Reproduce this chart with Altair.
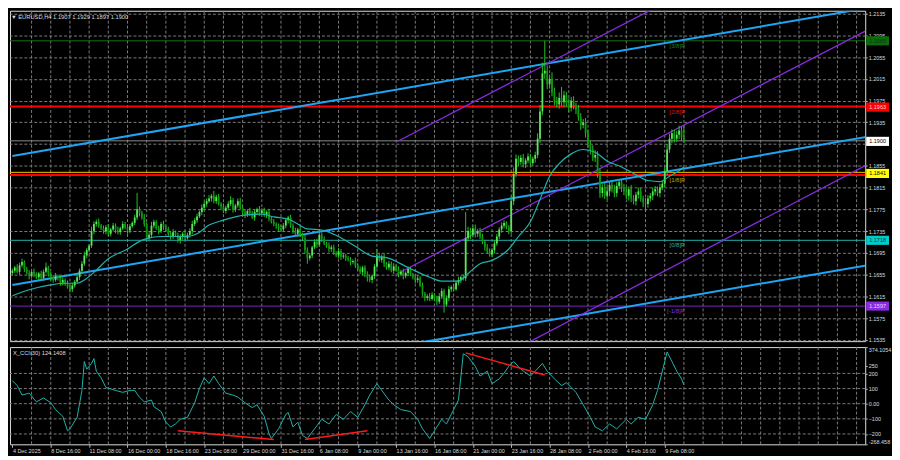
import altair as alt
import pandas as pd

# ------------------------------------------------------------------ data
# EURUSD H4 closes, in pips above 1.1000 (bar 0 = 4 Dec 2025 00:00)
closes = [
    662, 668, 660, 672, 678, 665, 658, 652, 660, 655, 650, 657, 648, 660,
    668, 655, 650, 645, 652, 648, 640, 645, 638, 632, 628, 635, 642,
    650, 662, 675, 690, 700, 708, 735, 748, 752, 745,
    740, 735, 742, 730, 738, 745, 737, 733, 740, 748, 742, 736, 744, 750, 760,
    775, 768, 760, 748,
    722, 728, 745, 752, 740, 735, 748, 742, 738, 730, 725, 733, 728, 718, 724, 730, 722, 728,
    735, 748, 755, 762, 770, 778, 785, 790,
    795, 800, 790, 798, 785, 780,
    772, 778, 785, 792, 775, 782, 790, 778, 770,
    765, 772, 768, 760, 770, 775, 768, 773,
    765, 770, 758, 752, 748, 745,
    740, 738, 745, 755, 760,
    745, 735, 730, 738, 728, 722,
    700, 685, 690, 705,
    715, 710, 728, 720, 712,
    708, 702, 705, 695, 690, 698, 688,
    690, 685, 682, 678, 680,
    672, 665, 660, 668, 655, 650, 645, 652,
    670, 690, 682, 688, 675,
    668, 675, 662, 670, 665,
    655, 660, 652, 658, 665, 655, 650, 645, 648,
    635, 620, 612, 615,
    610, 618, 612, 605, 615,
    625, 600, 612, 628,
    632, 628, 640, 645, 650, 648,
    722, 735, 728, 740, 730, 735, 725,
    715, 705, 698, 692, 700, 712,
    725, 738, 745, 750, 742, 735,
    790, 840, 868,
    862, 870, 858, 865, 872, 860, 868, 875,
    905, 955,
    1025, 1030, 1005, 1015, 990,
    975, 968, 980, 972, 985,
    970, 962, 975, 965, 958,
    945, 930, 935, 915,
    895, 885, 870, 875,
    840, 805,
    815, 800, 808, 820, 812, 805, 818, 825, 815, 808,
    800, 812, 795, 790, 802, 808, 795, 788, 785, 795,
    800, 808, 812, 805, 815, 822,
    845, 885, 905,
    915, 905, 912, 920, 907, 900,
]
first_open = 658

# wick lengths beyond the body (pips)
up_wick = [
    4, 3, 6, 5, 6, 3, 4, 5, 3, 6, 4, 3, 5, 4, 9, 3, 5, 4, 6, 3,
    5, 4, 3, 6, 4, 5, 3, 6, 4, 5, 7, 4, 3, 8, 5, 4, 6, 3, 5, 4,
    6, 3, 5, 4, 6, 3, 5, 4, 6, 4, 3, 5, 30, 5, 4, 6, 3, 5, 7, 4,
    3, 5, 4, 6, 3, 5, 4, 6, 3, 4, 5, 3, 6, 4, 5, 6, 4, 5, 3, 6,
    4, 5, 6, 3, 9, 4, 5, 3, 6, 4, 5, 7, 4, 3, 5, 6, 4, 5, 3, 6,
    4, 5, 3, 6, 4, 5, 3, 6, 4, 5, 3, 4, 6, 5, 4, 3, 5, 4, 6, 3,
    5, 4, 6, 5, 4, 3, 5, 6, 11, 4, 5, 3, 6, 4, 5, 3, 6, 4, 5, 3,
    4, 5, 3, 6, 4, 5, 3, 4, 6, 5, 3, 4, 12, 5, 4, 6, 3, 5, 4, 6,
    3, 5, 4, 6, 3, 5, 4, 3, 5, 6, 4, 5, 3, 4, 6, 5, 3, 4, 6, 5,
    4, 5, 6, 3, 5, 4, 6, 3, 5, 48, 8, 6, 5, 7, 4, 6, 5, 4, 6, 5,
    4, 6, 5, 4, 6, 5, 3, 4, 10, 12, 8, 6, 5, 7, 4, 6, 5, 4, 6, 10,
    12, 20, 55, 10, 8, 12, 9, 7, 10, 20, 8, 6, 9, 7, 8, 6, 9, 7, 6, 8,
    7, 6, 8, 9, 7, 10, 6, 8, 7, 5, 6, 8, 7, 6, 5, 7, 6, 5, 8, 6,
    5, 7, 6, 5, 8, 6, 5, 7, 6, 5, 7, 6, 8, 10, 9, 7, 6, 8, 9, 7, 22,
]
dn_wick = [
    5, 4, 3, 6, 4, 5, 3, 6, 4, 5, 3, 6, 4, 5, 3, 4, 6, 5, 3, 4,
    6, 5, 4, 3, 6, 5, 4, 3, 5, 6, 4, 5, 3, 4, 6, 5, 4, 3, 5, 6,
    4, 5, 3, 6, 4, 5, 3, 4, 6, 5, 3, 4, 5, 6, 4, 5, 3, 6, 4, 5,
    3, 6, 4, 5, 3, 4, 6, 5, 3, 4, 6, 5, 4, 3, 5, 6, 4, 5, 3, 6,
    4, 5, 3, 6, 4, 5, 3, 6, 4, 5, 3, 4, 6, 5, 4, 3, 5, 6, 4, 5,
    3, 6, 4, 5, 3, 4, 6, 5, 3, 4, 6, 5, 4, 3, 5, 6, 4, 5, 3, 6,
    4, 5, 6, 10, 4, 5, 3, 6, 4, 5, 3, 4, 6, 5, 4, 3, 5, 6, 4, 5,
    3, 6, 4, 5, 3, 4, 6, 5, 8, 4, 6, 5, 4, 3, 5, 6, 4, 5, 3, 6,
    4, 5, 3, 6, 4, 5, 3, 4, 6, 5, 3, 4, 6, 5, 4, 3, 5, 6, 4, 5,
    15, 4, 6, 5, 4, 3, 5, 6, 4, 5, 6, 8, 5, 7, 6, 5, 4, 6, 5, 4,
    5, 6, 4, 5, 6, 5, 4, 6, 5, 7, 6, 8, 5, 6, 7, 5, 6, 5, 7, 6,
    8, 7, 10, 9, 8, 7, 9, 6, 8, 7, 9, 6, 8, 7, 6, 8, 7, 9, 6, 8,
    7, 9, 6, 8, 7, 9, 8, 6, 7, 9, 6, 8, 7, 6, 8, 7, 6, 9, 7, 6,
    8, 7, 6, 9, 15, 7, 6, 8, 7, 6, 8, 5, 6, 7, 6, 8, 7, 6, 8, 6, 3,
]

# moving average (read at sample bars), pips above 1.1000
ma_bars = [0, 7, 16, 22, 27, 30, 34, 40, 48, 53, 56, 62, 73, 77, 82, 88, 93, 96, 104, 109,
           115, 119, 123, 129, 134, 138, 143, 150, 156, 165, 174, 179, 186, 190, 195, 200,
           207, 211, 216, 220, 224, 228, 233, 238, 243, 248, 254, 259, 265, 270, 274, 278, 280]
ma_vals = [616, 627, 636, 639, 639, 645, 659, 684, 702, 716, 721, 725, 725, 730, 746, 755, 761, 764, 766, 761,
           757, 748, 739, 737, 729, 720, 707, 689, 686, 668, 650, 643, 643, 657, 675, 681,
           702, 725, 752, 793, 836, 859, 877, 885, 880, 864, 853, 841, 828, 826, 836, 846, 853]

# CCI(30)
cci_bars = [0, 2, 4, 7, 10, 13, 16, 18, 21, 23, 24, 27, 29, 30, 31, 33, 34, 35, 37, 39,
            43, 46, 49, 51, 53, 55, 58, 59, 62, 64, 66, 68, 70, 73, 76, 78, 80, 82, 84, 86,
            89, 92, 94, 97, 100, 102, 105, 107, 108, 111, 114, 115, 117, 119, 121, 123, 126, 129, 132, 135,
            138, 141, 144, 147, 149, 152, 154, 157, 159, 162, 166, 169, 171, 174, 176, 179, 181, 184, 186, 188,
            190, 193, 195, 198, 200, 203, 205, 207, 209, 212, 216, 218, 221, 223, 226, 229, 231, 235, 238, 241,
            243, 246, 249, 252, 256, 258, 261, 264, 267, 269, 271, 273, 275, 277, 279, 280]
cci_vals = [152, 120, 57, 70, 12, 38, 6, -39, -83, -179, -166, -90, 88, 279, 228, 266, 298, 215, 171, 107,
            88, 75, 88, 88, 43, 12, 24, -20, -52, -122, -154, -134, -103, -90, 6, 101, 171, 133, 183, 133,
            69, 57, 44, 6, -26, -7, -83, -198, -230, -166, -71, -58, -154, -122, -211, -230, -166, -103, -134, -71,
            -103, -52, -90, -7, 57, 133, 88, 24, -7, -39, -52, -103, -166, -230, -179, -103, -134, -39, 24, 330,
            310, 247, 183, 215, 133, 164, 202, 247, 279, 228, 183, 215, 266, 215, 164, 120, 139, 75, -7, -90,
            -154, -179, -134, -166, -103, -134, -90, -103, -7, 88, 215, 342, 279, 215, 164, 124]

# CCI divergence segments
div_b0 = [69, 122, 189]
div_v0 = [-179, -237, 336]
div_b1 = [109, 148, 222]
div_v1 = [-237, -179, 190]

# trend channels: (bar0, price0) -> (bar1, price1)
chan_names = ["b1", "b2", "b3", "p1", "p2", "p3"]
chan_b0 = [0.0, 0.0, 170.7, 160.5, 160.1, 213.9]
chan_p0 = [1.1873, 1.16359, 1.15303, 1.18997, 1.16555, 1.15272]
chan_b1 = [356.5, 356.5, 356.5, 271.1, 356.5, 356.5]
chan_p1 = [1.21453, 1.19083, 1.16723, 1.21528, 1.2105, 1.18573]

# horizontal levels
level_names = ["g385", "r28", "bid", "y18", "r18", "c08", "m18"]
level_prices = [1.2085, 1.1964, 1.1901, 1.1843, 1.1838, 1.1718, 1.1597]

# Murrey labels
murrey_text = ["[3/8]P", "[2/8]P", "[1/8]P", "[0/8]P", "[-1/8]P"]
murrey_price = [1.2085, 1.1964, 1.1838, 1.1718, 1.1597]
murrey_bar = [274, 274, 274, 274, 273]

# price boxes on the right scale
box_text = ["1.2085", "1.1963", "1.1900", "1.1841", "1.1718", "1.1597"]
box_price = [1.2085, 1.1963, 1.1900, 1.1841, 1.1718, 1.1597]

price_ticks = [1.2135, 1.2095, 1.2055, 1.2015, 1.1975, 1.1935, 1.1895, 1.1855,
               1.1815, 1.1775, 1.1735, 1.1695, 1.1655, 1.1615, 1.1575, 1.1535]
hidden_tick = 1.1895
cci_ticks = [374.1054, 250, 200, 100, 0, -100, -200, -268.458]
cci_grid = [200, 100, 0, -100, -200]

tick_bars = [0, 16, 32, 48, 64, 80, 96, 112, 128, 144, 160, 176, 192, 208, 224, 240, 256, 272]
tick_labels = ["4 Dec 2025", "8 Dec 16:00", "11 Dec 08:00", "16 Dec 00:00", "18 Dec 16:00",
               "23 Dec 08:00", "29 Dec 00:00", "31 Dec 16:00", "6 Jan 08:00", "9 Jan 00:00",
               "13 Jan 16:00", "16 Jan 08:00", "21 Jan 00:00", "23 Jan 16:00", "28 Jan 08:00",
               "2 Feb 00:00", "4 Feb 16:00", "9 Feb 08:00"]
grid_bars = list(range(8, 353, 8))

title_text = "\u25BC EURUSD,H4  1.1907 1.1929 1.1897 1.1900"
cci_title = "X_CCI(30) 124.1408"

# ------------------------------------------------------------------ styles
W, H_MAIN, H_CCI = 862, 333, 98
X_DOM = [-1, 355.6]
Y_DOM = [1.15325, 1.21403]
CCI_DOM = [-268.458, 374.1054]
FONT = "Liberation Sans"
FS = 5.5
TXT = "#dcdcdc"
GRID = "#7a7a7a"
BULL = "#5ee35e"
BEAR = "#0c9a0c"
WICK = "#22c322"
BLUE = "#1ea5f5"
PURPLE = "#8a2be2"
MA_COL = "#20b2aa"
level_style = {
    "g385": ("#136f13", 1), "r28": ("#ff0000", 2), "bid": ("#8c8c8c", 1),
    "y18": ("#e6c800", 1), "r18": ("#ff0000", 2), "c08": ("#20b2aa", 1), "m18": ("#7d22c8", 1),
}
murrey_colors = ["#1f7a1f", "#e01010", "#c8a000", "#20b2aa", "#8a2be2"]
box_fill = ["#0d6a0d", "#ff0000", "#ffffff", "#ffff00", "#00cccc", "#8a2be2"]
box_tcol = ["#063a06", "#ffd0d0", "#000000", "#000000", "#003333", "#e8d8ff"]
BOX_PATH = "M-1,-0.4L1,-0.4L1,0.4L-1,0.4Z"

# ------------------------------------------------------------------ frames
opens = [first_open] + closes[:-1]
n = len(closes)
candles = pd.DataFrame({
    "bar": list(range(n)),
    "open": [1.1 + v / 10000 for v in opens],
    "close": [1.1 + v / 10000 for v in closes],
    "high": [1.1 + (max(o, c) + u) / 10000 for o, c, u in zip(opens, closes, up_wick)],
    "low": [1.1 + (min(o, c) - d) / 10000 for o, c, d in zip(opens, closes, dn_wick)],
    "dir": ["up" if c >= o else "down" for o, c in zip(opens, closes)],
})
ma_df = pd.DataFrame({"bar": ma_bars, "price": [1.1 + v / 10000 for v in ma_vals]})
cci_df = pd.DataFrame({"bar": cci_bars, "cci": cci_vals})
div_df = pd.DataFrame({"b0": div_b0, "v0": div_v0, "b1": div_b1, "v1": div_v1})
chan_rows = []
for nm, b0, p0, b1, p1 in zip(chan_names, chan_b0, chan_p0, chan_b1, chan_p1):
    chan_rows.append({"id": nm, "kind": nm[0], "bar": b0, "price": p0})
    chan_rows.append({"id": nm, "kind": nm[0], "bar": b1, "price": p1})
chan_df = pd.DataFrame(chan_rows)
lev_df = pd.DataFrame({"name": level_names, "price": level_prices,
                       "color": [level_style[k][0] for k in level_names],
                       "w": [level_style[k][1] for k in level_names]})
mur_df = pd.DataFrame({"t": murrey_text, "price": murrey_price, "bar": murrey_bar, "color": murrey_colors})
box_df = pd.DataFrame({"t": box_text, "price": box_price, "fill": box_fill, "tc": box_tcol})
cgrid_df = pd.DataFrame({"v": cci_grid})
vgrid_df = pd.DataFrame({"bar": grid_bars})

# ------------------------------------------------------------------ encodings
xs = alt.Scale(domain=X_DOM, nice=False, zero=False)
ys = alt.Scale(domain=Y_DOM, nice=False, zero=False)
cs = alt.Scale(domain=CCI_DOM, nice=False, zero=False)

main_yaxis = alt.Axis(orient="right", values=price_ticks,
                      labelExpr=f"datum.value == {hidden_tick} ? '' : format(datum.value, '.4f')",
                      labelFontSize=FS, labelColor=TXT, labelFont=FONT, tickColor="#bbbbbb", tickSize=2,
                      labelPadding=1, domain=False, grid=True, gridColor=GRID, gridDash=[3, 2], gridWidth=1,
                      labelOverlap=False, title=None)

expr = "''"
for b, lab in reversed(list(zip(tick_bars, tick_labels))):
    expr = f"datum.value == {b} ? '{lab}' : ({expr})"
cci_xaxis = alt.Axis(values=tick_bars, labelExpr=expr, labelAlign="left", labelFontSize=FS,
                     labelColor=TXT, labelFont=FONT, tickColor="#bbbbbb", tickSize=3, labelPadding=1,
                     domain=False, grid=False, labelFlush=False, labelOverlap=False, labelBound=False,
                     title=None)
cci_lab = ("datum.value == 0 ? '0.00' : (datum.value > 300 ? '374.1054' : "
           "(datum.value < -250 ? '-268.458' : format(datum.value, 'd')))")
cci_yaxis = alt.Axis(orient="right", values=cci_ticks, labelExpr=cci_lab, labelFontSize=FS,
                     labelColor=TXT, labelFont=FONT, tickColor="#bbbbbb", tickSize=2, labelPadding=1,
                     domain=False, grid=False, labelOverlap=False, labelFlush=True, title=None)


def X(f="bar"):
    return alt.X(f"{f}:Q", scale=xs, axis=None)


def Y(f):
    return alt.Y(f"{f}:Q", scale=ys, axis=main_yaxis)


def XC(f="bar"):
    return alt.X(f"{f}:Q", scale=xs, axis=cci_xaxis)


def YC(f):
    return alt.Y(f"{f}:Q", scale=cs, axis=cci_yaxis)


dir_color = alt.Color("dir:N", scale=alt.Scale(domain=["up", "down"], range=[BULL, BEAR]), legend=None)

vgrid = alt.Chart(vgrid_df).mark_rule(color=GRID, strokeDash=[3, 2], strokeWidth=1).encode(x=X())
levels = alt.Chart(lev_df).mark_rule().encode(
    y=Y("price"), color=alt.Color("color:N", scale=None), strokeWidth=alt.StrokeWidth("w:Q", scale=None))
wicks = alt.Chart(candles).mark_rule(strokeWidth=1, color=WICK).encode(x=X(), y=Y("low"), y2="high")
bodies = alt.Chart(candles).mark_rule(strokeWidth=1.8).encode(x=X(), y=Y("open"), y2="close", color=dir_color)
blue_lines = alt.Chart(chan_df).transform_filter("datum.kind == 'b'").mark_line(
    color=BLUE, strokeWidth=2, clip=True).encode(x=X(), y=Y("price"), detail="id:N")
purple_lines = alt.Chart(chan_df).transform_filter("datum.kind == 'p'").mark_line(
    color=PURPLE, strokeWidth=1.3, clip=True).encode(x=X(), y=Y("price"), detail="id:N")
ma_line = alt.Chart(ma_df).mark_line(color=MA_COL, strokeWidth=1.2, interpolate="monotone").encode(
    x=X(), y=Y("price"))
mur = alt.Chart(mur_df).mark_text(align="left", baseline="top", dy=2, fontSize=6, font=FONT).encode(
    x=X(), y=Y("price"), text="t:N", color=alt.Color("color:N", scale=None))
boxes = alt.Chart(box_df).mark_point(shape=BOX_PATH, filled=True, opacity=1, size=529).encode(
    x=alt.value(W + 12.5), y=Y("price"), fill=alt.Fill("fill:N", scale=None))
box_txt = alt.Chart(box_df).mark_text(align="center", baseline="middle", fontSize=FS, font=FONT).encode(
    x=alt.value(W + 12.5), y=Y("price"), text="t:N", color=alt.Color("tc:N", scale=None))
title = alt.Chart(pd.DataFrame({"t": [title_text]})).mark_text(
    align="left", baseline="top", fontSize=5.8, font=FONT, color=TXT).encode(
    x=alt.value(1), y=alt.value(3), text="t:N")

main = alt.layer(vgrid, levels, blue_lines, purple_lines, wicks, bodies, ma_line, mur, boxes, box_txt,
                 title).properties(width=W, height=H_MAIN)

vgrid_c = alt.Chart(vgrid_df).mark_rule(color=GRID, strokeDash=[3, 2], strokeWidth=1).encode(x=XC())
cgrid = alt.Chart(cgrid_df).mark_rule(color=GRID, strokeDash=[3, 2], strokeWidth=1).encode(y=YC("v"))
cci_line = alt.Chart(cci_df).mark_line(color=MA_COL, strokeWidth=1).encode(x=XC(), y=YC("cci"))
div = alt.Chart(div_df).mark_rule(color="#ff1a1a", strokeWidth=1.5).encode(
    x=XC("b0"), y=YC("v0"), x2="b1", y2="v1")
cci_t = alt.Chart(pd.DataFrame({"t": [cci_title]})).mark_text(
    align="left", baseline="top", fontSize=5.8, font=FONT, color=TXT).encode(
    x=alt.value(3), y=alt.value(3), text="t:N")
cci = alt.layer(vgrid_c, cgrid, cci_line, div, cci_t).properties(width=W, height=H_CCI)

chart = alt.vconcat(main, cci, spacing=2).properties(
    padding={"left": 0, "top": 0, "right": 0, "bottom": 0}, background="#000000"
).configure_view(stroke="#c0c0c0", strokeWidth=1).configure(font=FONT)

chart.save("out.html", embed_options={"renderer": "svg", "actions": False})
